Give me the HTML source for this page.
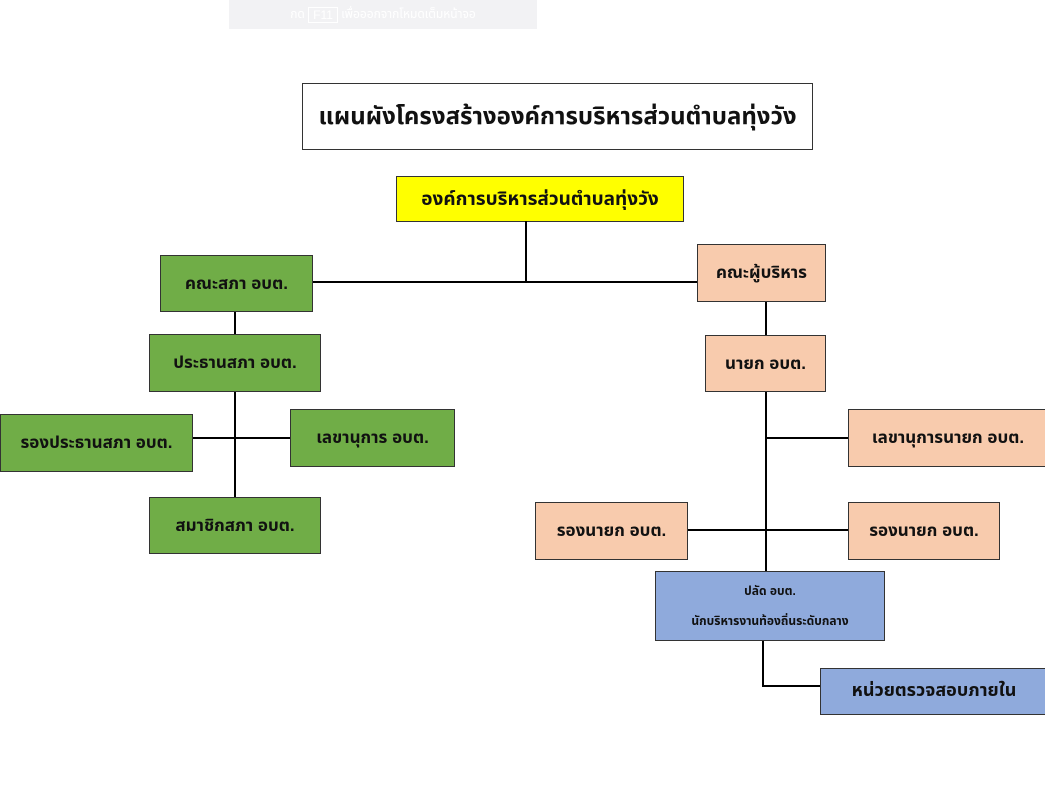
<!DOCTYPE html>
<html><head><meta charset="utf-8"><style>
body{margin:0;width:1045px;height:804px;background:#fff;position:relative;overflow:hidden;font-family:"Liberation Sans","Noto Sans Thai","Tahoma",sans-serif;}
.b{position:absolute;box-sizing:border-box;border:1px solid #333;display:flex;align-items:center;justify-content:center;font-weight:bold;font-size:17px;color:#111;white-space:nowrap;}
.g{background:#70ad47}.p{background:#f8cbad}.u{background:#8faadc}
.l{position:absolute;background:#000}
</style></head><body>
<div style="position:absolute;left:229px;top:0;width:308px;height:29px;background:#f2f2f4;color:#fff;font-size:12px;display:flex;align-items:center;justify-content:center;">กด&nbsp;<span style="border:1px solid #fff;padding:0 4px">F11</span>&nbsp;เพื่อออกจากโหมดเต็มหน้าจอ</div>
<div class="b" style="left:302px;top:83px;width:511px;height:67px;background:#fff;font-size:24px">แผนผังโครงสร้างองค์การบริหารส่วนตำบลทุ่งวัง</div>
<div class="b" style="left:396px;top:176px;width:288px;height:46px;background:#ffff00;font-size:19px">องค์การบริหารส่วนตำบลทุ่งวัง</div>
<div class="l" style="left:525px;top:221px;width:2px;height:62px"></div>
<div class="l" style="left:312px;top:281px;width:386px;height:2px"></div>
<div class="l" style="left:234px;top:311px;width:2px;height:186px"></div>
<div class="l" style="left:192px;top:437px;width:98px;height:2px"></div>
<div class="l" style="left:765px;top:301px;width:2px;height:270px"></div>
<div class="l" style="left:766px;top:437px;width:82px;height:2px"></div>
<div class="l" style="left:687px;top:529px;width:161px;height:2px"></div>
<div class="l" style="left:762px;top:640px;width:2px;height:47px"></div>
<div class="l" style="left:762px;top:685px;width:58px;height:2px"></div>
<div class="b g" style="left:160px;top:255px;width:153px;height:57px">คณะสภา อบต.</div>
<div class="b g" style="left:149px;top:334px;width:172px;height:58px">ประธานสภา อบต.</div>
<div class="b g" style="left:0;top:414px;width:193px;height:58px">รองประธานสภา อบต.</div>
<div class="b g" style="left:290px;top:409px;width:165px;height:58px">เลขานุการ อบต.</div>
<div class="b g" style="left:149px;top:497px;width:172px;height:57px">สมาชิกสภา อบต.</div>
<div class="b p" style="left:697px;top:244px;width:129px;height:58px">คณะผู้บริหาร</div>
<div class="b p" style="left:705px;top:335px;width:121px;height:57px">นายก อบต.</div>
<div class="b p" style="left:848px;top:409px;width:200px;height:58px">เลขานุการนายก อบต.</div>
<div class="b p" style="left:535px;top:502px;width:153px;height:58px">รองนายก อบต.</div>
<div class="b p" style="left:848px;top:502px;width:152px;height:58px">รองนายก อบต.</div>
<div class="b u" style="left:655px;top:571px;width:230px;height:70px;display:block;text-align:center;font-size:12px;line-height:30px;padding-top:4px">ปลัด อบต.<br>นักบริหารงานท้องถิ่นระดับกลาง</div>
<div class="b u" style="left:820px;top:668px;width:228px;height:47px;font-size:18px">หน่วยตรวจสอบภายใน</div>
</body></html>
